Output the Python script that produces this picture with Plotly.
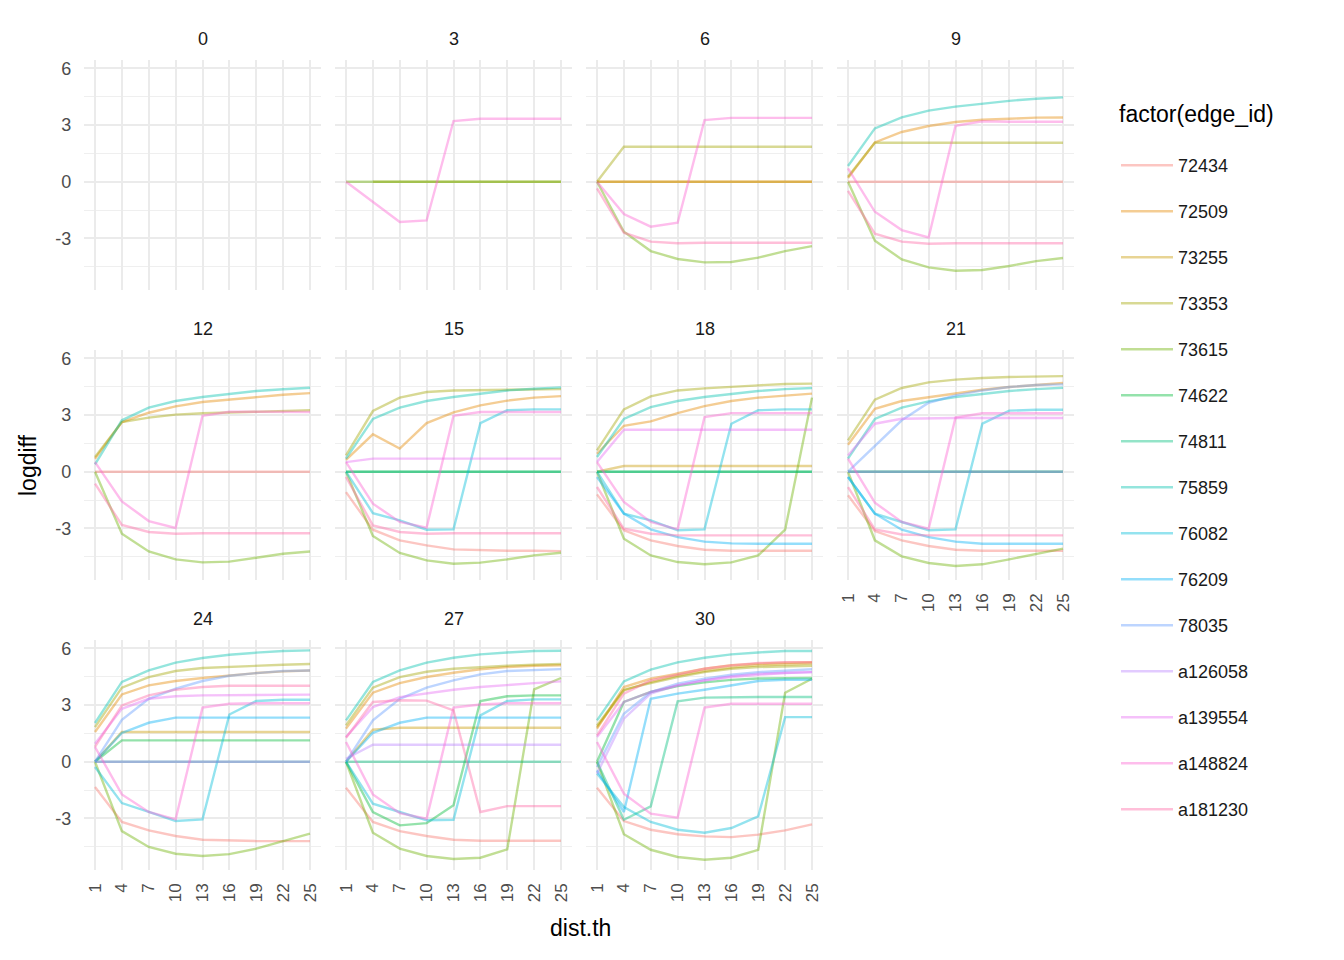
import plotly.graph_objects as go

facets = [0, 3, 6, 9, 12, 15, 18, 21, 24, 27, 30]
dist_th = [1, 4, 7, 10, 13, 16, 19, 22, 25]
edge_ids = ["72434", "72509", "73255", "73353", "73615", "74622", "74811", "75859",
            "76082", "76209", "78035", "a126058", "a139554", "a148824", "a181230"]
hue_colors = ["#F8766D", "#E58700", "#C99800", "#A3A500", "#6BB100", "#00BA38", "#00BF7D",
              "#00C0AF", "#00BCD8", "#00B0F6", "#619CFF", "#B983FF", "#E76BF3", "#FD61D1", "#FF67A4"]
y_ticks = [-3, 0, 3, 6]

Z = [0, 0, 0, 0, 0, 0, 0, 0, 0]

s_72434 = {
    9: Z, 12: Z,
    15: [-1.08, -3.07, -3.63, -3.90, -4.11, -4.16, -4.18, -4.18, -4.20],
    18: [-1.20, -3.10, -3.63, -3.93, -4.13, -4.18, -4.18, -4.18, -4.18],
    21: [-1.25, -3.14, -3.63, -3.93, -4.13, -4.18, -4.18, -4.18, -4.18],
    24: [-1.34, -3.19, -3.63, -3.93, -4.13, -4.18, -4.20, -4.20, -4.20],
    27: [-1.38, -3.19, -3.67, -3.93, -4.13, -4.18, -4.18, -4.18, -4.18],
    30: [-1.38, -3.14, -3.60, -3.84, -3.95, -3.99, -3.86, -3.63, -3.32],
}
s_72509 = {
    6: Z,
    9: [0.20, 2.08, 2.63, 2.95, 3.16, 3.28, 3.33, 3.39, 3.40],
    12: [0.69, 2.63, 3.12, 3.46, 3.69, 3.83, 3.97, 4.07, 4.16],
    15: [0.63, 1.98, 1.22, 2.57, 3.14, 3.51, 3.76, 3.92, 4.00],
    18: [0.95, 2.43, 2.66, 3.10, 3.47, 3.74, 3.92, 4.04, 4.13],
    21: [1.43, 3.33, 3.74, 3.95, 4.16, 4.34, 4.48, 4.60, 4.69],
    24: [1.57, 3.56, 4.04, 4.27, 4.43, 4.57, 4.69, 4.78, 4.83],
    27: [1.75, 3.65, 4.16, 4.48, 4.71, 4.89, 5.01, 5.08, 5.10],
    30: [1.75, 3.95, 4.39, 4.66, 4.92, 5.10, 5.19, 5.24, 5.27],
}
s_73255 = {
    6: Z,
    18: [0, 0.30, 0.30, 0.30, 0.30, 0.30, 0.30, 0.30, 0.30],
    24: [0, 1.57, 1.57, 1.57, 1.57, 1.57, 1.57, 1.57, 1.57],
    27: [0, 1.69, 1.80, 1.80, 1.80, 1.80, 1.80, 1.80, 1.80],
    30: [1.83, 3.77, 4.22, 4.55, 4.80, 4.98, 5.10, 5.17, 5.20],
}
s_73353 = {
    3: [None, 0, 0, 0, 0, 0, 0, 0, 0],
    6: [0, 1.85, 1.85, 1.85, 1.85, 1.85, 1.85, 1.85, 1.85],
    9: [0.26, 2.06, 2.06, 2.06, 2.06, 2.06, 2.06, 2.06, 2.06],
    12: [0.78, 2.63, 2.86, 3.02, 3.09, 3.14, 3.19, 3.23, 3.25],
    15: [0.86, 3.21, 3.92, 4.22, 4.30, 4.32, 4.34, 4.36, 4.37],
    18: [1.13, 3.30, 3.99, 4.30, 4.41, 4.50, 4.57, 4.64, 4.66],
    21: [1.66, 3.81, 4.43, 4.73, 4.87, 4.96, 5.01, 5.04, 5.06],
    24: [1.83, 3.92, 4.48, 4.80, 4.96, 5.03, 5.08, 5.13, 5.17],
    27: [1.92, 3.92, 4.48, 4.76, 4.92, 5.01, 5.08, 5.13, 5.17],
    30: [1.92, 3.81, 4.16, 4.48, 4.74, 4.92, 5.01, 5.06, 5.08],
}
s_73615 = {
    3: Z,
    6: [0, -2.65, -3.67, -4.09, -4.27, -4.25, -4.02, -3.67, -3.41],
    9: [0, -3.12, -4.11, -4.53, -4.71, -4.67, -4.46, -4.20, -4.04],
    12: [0, -3.28, -4.22, -4.64, -4.80, -4.76, -4.55, -4.34, -4.22],
    15: [0, -3.40, -4.30, -4.69, -4.87, -4.81, -4.64, -4.43, -4.29],
    18: [0, -3.55, -4.43, -4.78, -4.90, -4.80, -4.43, -3.07, 3.92],
    21: [0, -3.63, -4.48, -4.83, -4.99, -4.90, -4.64, -4.34, -4.07],
    24: [0, -3.67, -4.51, -4.87, -4.99, -4.89, -4.60, -4.20, -3.81],
    27: [0, -3.76, -4.60, -4.99, -5.15, -5.08, -4.64, 3.83, 4.43],
    30: [0, -3.84, -4.66, -5.04, -5.19, -5.08, -4.66, 3.65, 4.39],
}
s_74622 = {
    15: Z, 18: Z, 21: Z,
    24: [0, 1.13, 1.13, 1.13, 1.13, 1.13, 1.13, 1.13, 1.13],
    27: [0, -2.66, -3.37, -3.25, -2.31, 3.21, 3.46, 3.51, 3.51],
    30: [0, 3.16, 3.69, 4.00, 4.20, 4.33, 4.40, 4.42, 4.43],
}
s_74811 = {
    15: Z, 18: Z, 21: Z, 24: Z, 27: Z,
    30: [0, -3.07, -2.36, 3.19, 3.39, 3.42, 3.42, 3.42, 3.42],
}
s_75859 = {
    9: [0.83, 2.82, 3.40, 3.76, 3.97, 4.14, 4.28, 4.39, 4.46],
    12: [0.39, 2.72, 3.39, 3.74, 3.95, 4.13, 4.27, 4.36, 4.44],
    15: [0.69, 2.79, 3.39, 3.74, 3.95, 4.13, 4.30, 4.39, 4.46],
    18: [0.78, 2.79, 3.42, 3.74, 3.95, 4.13, 4.27, 4.37, 4.43],
    21: [0.69, 2.79, 3.39, 3.72, 3.95, 4.13, 4.27, 4.37, 4.44],
    24: [2.05, 4.22, 4.83, 5.24, 5.49, 5.66, 5.77, 5.86, 5.89],
    27: [2.19, 4.22, 4.83, 5.24, 5.50, 5.68, 5.78, 5.86, 5.87],
    30: [2.19, 4.25, 4.87, 5.26, 5.50, 5.68, 5.78, 5.86, 5.86],
}
s_76082 = {
    15: [0, -2.19, -2.57, -3.07, -3.05, 2.57, 3.25, 3.30, 3.30],
    18: [0, -2.22, -2.57, -3.10, -3.05, 2.54, 3.25, 3.30, 3.30],
    21: [-0.28, -2.22, -2.66, -3.10, -3.05, 2.54, 3.23, 3.28, 3.28],
    24: [-0.28, -2.19, -2.66, -3.14, -3.05, 2.50, 3.21, 3.28, 3.28],
    27: [0, -2.22, -2.66, -3.10, -3.07, 2.45, 3.21, 3.30, 3.30],
    30: [-0.63, -2.40, -3.19, -3.60, -3.76, -3.51, -2.89, 2.36, 2.36],
}
s_76209 = {
    18: [-0.28, -2.22, -3.05, -3.46, -3.70, -3.79, -3.81, -3.81, -3.81],
    21: [-0.28, -2.22, -3.07, -3.46, -3.70, -3.81, -3.81, -3.81, -3.81],
    24: [0, 1.52, 2.06, 2.33, 2.33, 2.33, 2.33, 2.33, 2.33],
    27: [0, 1.53, 2.06, 2.33, 2.33, 2.33, 2.33, 2.33, 2.33],
    30: [-0.46, -2.66, 3.33, 3.60, 3.81, 4.04, 4.27, 4.34, 4.34],
}
s_78035 = {
    21: [0, 1.34, 2.72, 3.65, 4.04, 4.30, 4.48, 4.59, 4.62],
    24: [0, 2.22, 3.33, 3.86, 4.27, 4.55, 4.69, 4.80, 4.83],
    27: [0, 2.19, 3.33, 3.92, 4.30, 4.62, 4.80, 4.87, 4.90],
    30: [-0.28, 2.54, 3.69, 4.13, 4.39, 4.60, 4.74, 4.83, 4.89],
}
s_a126058 = {
    21: Z, 24: Z,
    27: [0.16, 0.90, 0.90, 0.90, 0.90, 0.90, 0.90, 0.90, 0.90],
    30: [-0.63, 2.28, 3.60, 4.04, 4.30, 4.53, 4.66, 4.71, 4.74],
}
s_a139554 = {
    15: [0.51, 0.69, 0.69, 0.69, 0.69, 0.69, 0.69, 0.69, 0.69],
    18: [0.51, 2.22, 2.22, 2.22, 2.22, 2.22, 2.22, 2.22, 2.22],
    21: [0.86, 2.54, 2.80, 2.84, 2.84, 2.84, 2.84, 2.84, 2.84],
    24: [0.95, 2.80, 3.33, 3.46, 3.51, 3.53, 3.55, 3.55, 3.55],
    27: [1.31, 2.89, 3.42, 3.63, 3.81, 3.95, 4.07, 4.16, 4.25],
    30: [1.31, 3.16, 3.69, 4.04, 4.30, 4.48, 4.60, 4.69, 4.74],
}
s_a148824 = {
    3: [0, -1.08, -2.13, -2.05, 3.21, 3.33, 3.33, 3.33, 3.33],
    6: [0, -1.71, -2.38, -2.17, 3.26, 3.38, 3.38, 3.38, 3.38],
    9: [0.70, -1.59, -2.56, -2.95, 2.96, 3.20, 3.17, 3.17, 3.17],
    12: [0.51, -1.57, -2.61, -2.98, 2.96, 3.17, 3.17, 3.17, 3.16],
    15: [0.51, -1.69, -2.66, -2.96, 2.96, 3.16, 3.16, 3.16, 3.16],
    18: [0.51, -1.60, -2.66, -3.05, 2.89, 3.10, 3.10, 3.10, 3.10],
    21: [0.69, -1.64, -2.66, -3.02, 2.86, 3.09, 3.09, 3.09, 3.09],
    24: [0.78, -1.73, -2.66, -3.05, 2.86, 3.07, 3.09, 3.09, 3.09],
    27: [1.04, -1.73, -2.72, -3.02, 2.86, 3.03, 3.09, 3.09, 3.09],
    30: [1.04, -1.69, -2.75, -2.96, 2.86, 3.07, 3.07, 3.07, 3.07],
}
s_a181230 = {
    6: [-0.35, -2.70, -3.17, -3.26, -3.23, -3.23, -3.23, -3.23, -3.23],
    9: [-0.49, -2.75, -3.17, -3.28, -3.26, -3.26, -3.26, -3.26, -3.26],
    12: [-0.63, -2.82, -3.19, -3.28, -3.26, -3.26, -3.26, -3.26, -3.26],
    15: [-0.28, -2.84, -3.19, -3.28, -3.26, -3.26, -3.26, -3.26, -3.26],
    18: [-0.81, -3.02, -3.28, -3.37, -3.37, -3.37, -3.37, -3.37, -3.37],
    21: [-0.81, -3.05, -3.32, -3.37, -3.37, -3.37, -3.37, -3.37, -3.37],
    24: [0.78, 2.98, 3.51, 3.81, 3.95, 4.02, 4.02, 4.02, 4.02],
    27: [1.27, 3.16, 3.25, 3.23, 2.72, -2.66, -2.35, -2.35, -2.35],
    30: [1.39, 3.60, 4.30, 4.62, 4.92, 5.10, 5.22, 5.26, 5.26],
}

series_values = [s_72434, s_72509, s_73255, s_73353, s_73615, s_74622, s_74811, s_75859,
                 s_76082, s_76209, s_78035, s_a126058, s_a139554, s_a148824, s_a181230]

# ---------------- layout geometry ----------------
# The page body adds an 8 px margin, so the figure is 8 px smaller and
# screen positions are shifted by 8 px into paper coordinates.
OFF = 8
W, H = 1344 - OFF, 960 - OFF
FONT = "Liberation Sans, Arial, Helvetica, sans-serif"
X_RANGE = [-0.2, 26.2]
Y_RANGE = [-5.73, 6.44]


def fx(px):
    return (px - OFF) / W


def fy(py):
    return 1 - (py - OFF) / H


def rgba(hx, a):
    hx = hx.lstrip("#")
    r, g, b = int(hx[0:2], 16), int(hx[2:4], 16), int(hx[4:6], 16)
    return f"rgba({r},{g},{b},{a})"


def panel_box(i):
    r, c = divmod(i, 4)
    x0 = 84.25 + 251 * c
    x1 = 320.75 + 251 * c
    y0 = 60 + 290 * r
    y1 = 290 + 290 * r
    return x0, x1, y0, y1


fig = go.Figure()
layout = {}
annotations = []
n_panels = len(facets)
for i, f in enumerate(facets):
    k = i + 1
    x0, x1, y0, y1 = panel_box(i)
    r, c = divmod(i, 4)
    bottom_of_col = (i + 4 >= n_panels)
    xa = dict(domain=[fx(x0), fx(x1)], range=X_RANGE, anchor=f"y{k}",
              tickvals=dist_th, ticktext=[str(v) for v in dist_th],
              showgrid=True, gridcolor="#EBEBEB", gridwidth=2, zeroline=False,
              showline=False, ticks="", showticklabels=bottom_of_col,
              tickangle=-90, tickfont=dict(size=17, color="#4D4D4D", family=FONT),
              ticklabelstandoff=9, fixedrange=True)
    ya = dict(domain=[fy(y1), fy(y0)], range=Y_RANGE, anchor=f"x{k}",
              tickvals=y_ticks, ticktext=[str(v) for v in y_ticks],
              showgrid=True, gridcolor="#EBEBEB", gridwidth=2, zeroline=False,
              showline=False, ticks="", showticklabels=(c == 0),
              tickfont=dict(size=18, color="#4D4D4D", family=FONT),
              ticklabelstandoff=12,
              minor=dict(tickvals=[-4.5, -1.5, 1.5, 4.5], showgrid=True,
                         gridcolor="#EFEFEF", gridwidth=1, ticks=""),
              fixedrange=True)
    layout["xaxis" if k == 1 else f"xaxis{k}"] = xa
    layout["yaxis" if k == 1 else f"yaxis{k}"] = ya
    annotations.append(dict(text=str(f), x=fx((x0 + x1) / 2), y=fy(39 + 290 * r),
                            xref="paper", yref="paper", showarrow=False,
                            xanchor="center", yanchor="middle",
                            font=dict(size=18, color="#1A1A1A", family=FONT)))
    # an empty trace keeps every panel (also the empty facet) drawn
    fig.add_trace(go.Scatter(x=[None], y=[None], mode="lines", showlegend=False,
                             xaxis="x" if k == 1 else f"x{k}",
                             yaxis="y" if k == 1 else f"y{k}", hoverinfo="skip"))

for s_idx, (eid, col, vals) in enumerate(zip(edge_ids, hue_colors, series_values)):
    shown = False
    for i, f in enumerate(facets):
        if f not in vals:
            continue
        k = i + 1
        fig.add_trace(go.Scatter(
            x=dist_th, y=vals[f], mode="lines", name=eid,
            line=dict(color=rgba(col, 0.42), width=2.4),
            xaxis="x" if k == 1 else f"x{k}", yaxis="y" if k == 1 else f"y{k}",
            legendgroup=eid, showlegend=not shown, connectgaps=False,
            hoverinfo="skip"))
        shown = True

annotations.append(dict(text="dist.th", x=fx(580), y=fy(928), xref="paper", yref="paper",
                        showarrow=False, xanchor="center", yanchor="middle",
                        font=dict(size=23, color="#000000", family=FONT)))
annotations.append(dict(text="logdiff", x=fx(28), y=fy(465), xref="paper", yref="paper",
                        showarrow=False, xanchor="center", yanchor="middle", textangle=-90,
                        font=dict(size=23, color="#000000", family=FONT)))
annotations.append(dict(text="factor(edge_id)", x=fx(1117), y=fy(114), xref="paper", yref="paper",
                        showarrow=False, xanchor="left", yanchor="middle",
                        font=dict(size=23, color="#000000", family=FONT)))

fig.update_layout(
    width=W, height=H,
    margin=dict(l=0, r=0, t=0, b=0),
    paper_bgcolor="white", plot_bgcolor="white",
    font=dict(family=FONT),
    annotations=annotations,
    showlegend=True,
    legend=dict(x=fx(1116), y=fy(147), xanchor="left", yanchor="top",
                font=dict(size=18, color="#1A1A1A", family=FONT),
                tracegroupgap=19.6, bgcolor="rgba(0,0,0,0)", itemwidth=52),
    **layout,
)

fig.write_html("out.html")
